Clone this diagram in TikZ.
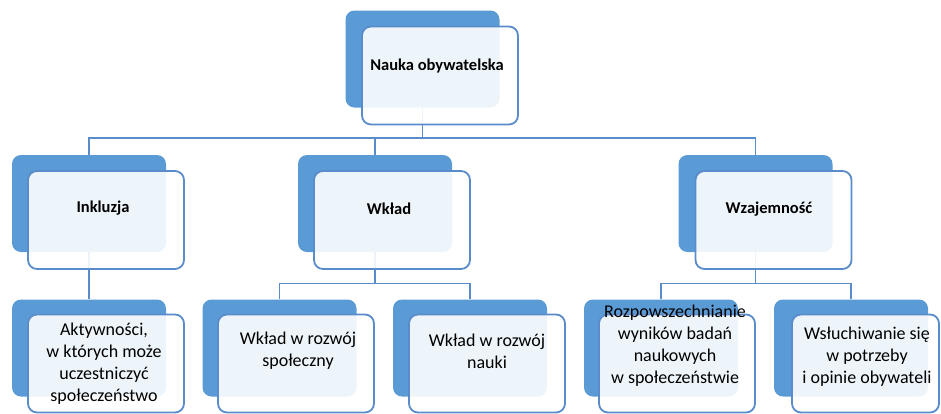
\documentclass[tikz,border=0pt]{standalone}
\usepackage{fontspec}
\setmainfont{Carlito}
\definecolor{smblue}{HTML}{5B9BD5}
\definecolor{smline}{HTML}{5A8CCB}

\begin{document}
\begin{tikzpicture}[
    x=1pt, y=-1pt,
    backbox/.style={rectangle, rounded corners=9pt, fill=smblue, minimum width=154pt, minimum height=97pt, inner sep=0pt},
    frontbox/.style={rectangle, rounded corners=9pt, draw=smline, line width=1.8pt, fill=white, fill opacity=0.9, minimum width=156pt, minimum height=98pt, inner sep=0pt},
    head/.style={font=\fontsize{16.5}{20}\selectfont\bfseries, align=center},
    leaf/.style={font=\fontsize{18}{22}\selectfont, align=center},
    conn/.style={draw=smline, line width=1.8pt}
]
    \useasboundingbox (0,0) rectangle (941,413);

    % back boxes
    \node[backbox] (bT) at (422.5,59) {};
    \node[backbox] (bA) at (89,203.5) {};
    \node[backbox] (bB) at (375,203.5) {};
    \node[backbox] (bC) at (755.5,203.5) {};
    \node[backbox] (bA1) at (89,348) {};
    \node[backbox] (bB1) at (279.5,348) {};
    \node[backbox] (bB2) at (470,348) {};
    \node[backbox] (bC1) at (661,348) {};
    \node[backbox] (bC2) at (851,348) {};

    % connectors
    \coordinate (jT) at (422.5,138);
    \coordinate (jB) at (375,283.5);
    \coordinate (jC) at (755.5,283.5);
    \draw[conn] (bT.south) -- (jT) -| (bA.north);
    \draw[conn] (jT) -| (bB.north);
    \draw[conn] (jT) -| (bC.north);
    \draw[conn] (bA.south) -- (bA1.north);
    \draw[conn] (bB.south) -- (jB) -| (bB1.north);
    \draw[conn] (jB) -| (bB2.north);
    \draw[conn] (bC.south) -- (jC) -| (bC1.north);
    \draw[conn] (jC) -| (bC2.north);

    % front boxes
    \node[frontbox] (fT) at (440,75.5) {};
    \node[frontbox] (fA) at (106,220) {};
    \node[frontbox] (fB) at (392,220) {};
    \node[frontbox] (fC) at (773.5,220) {};
    \node[frontbox] (fA1) at (106,363.5) {};
    \node[frontbox] (fB1) at (296,363.5) {};
    \node[frontbox] (fB2) at (487,363.5) {};
    \node[frontbox] (fC1) at (677,363.5) {};
    \node[frontbox, minimum width=147pt] (fC2) at (865.5,363.5) {};

    % labels
    \node[head] (tT) at (437,66) {Nauka obywatelska};
    \node[head] (tA) at (103,208) {Inkluzja};
    \node[head] (tB) at (389,209) {Wkład};
    \node[head] (tC) at (769,209) {Wzajemność};
    \node[leaf] (tA1) at (104,364) {Aktywności,\\w których może\\uczestniczyć\\społeczeństwo};
    \node[leaf] (tB1) at (298,351) {Wkład w rozwój\\społeczny};
    \node[leaf] (tB2) at (487,351) {Wkład w rozwój\\nauki};
    \node[leaf] (tC1) at (675,346) {Rozpowszechnianie\\wyników badań\\naukowych\\w społeczeństwie};
    \node[leaf] (tC2) at (867,357) {Wsłuchiwanie się\\w potrzeby\\i opinie obywateli};
\end{tikzpicture}
\end{document}
